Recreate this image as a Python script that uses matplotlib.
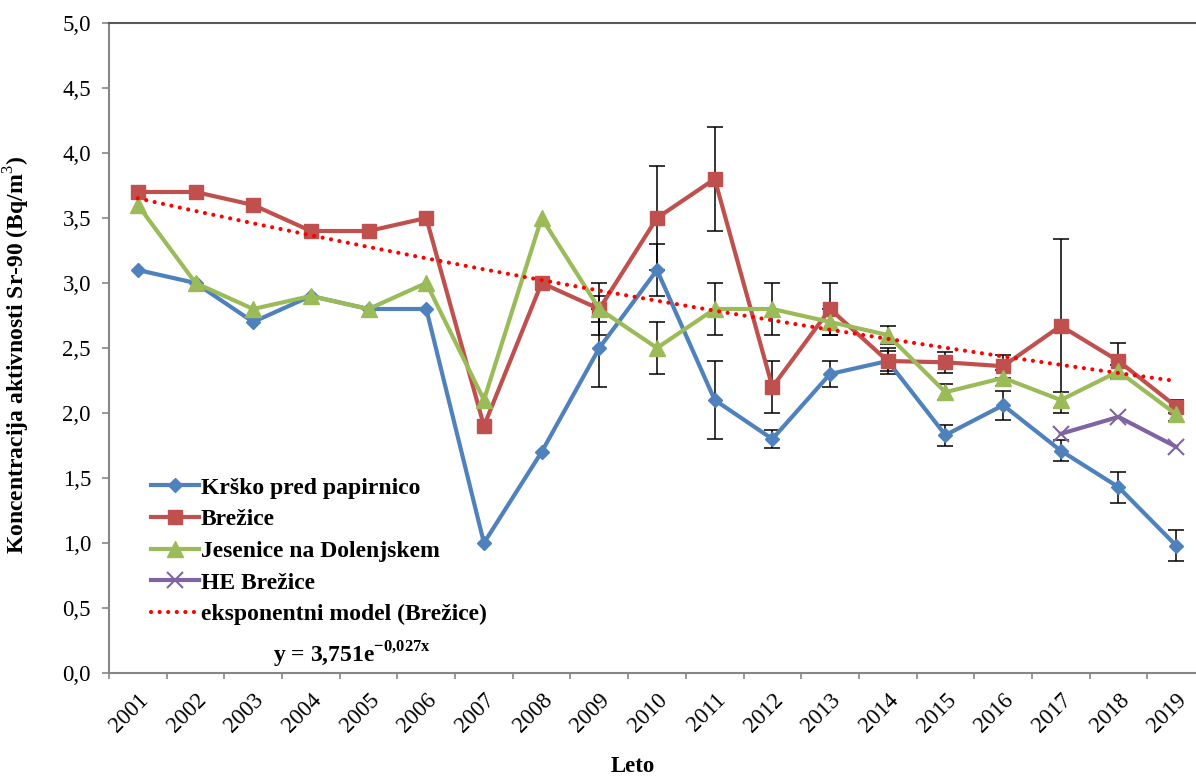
import matplotlib
matplotlib.use("Agg")
import matplotlib.pyplot as plt
from matplotlib.transforms import ScaledTranslation
import numpy as np

plt.rcParams['font.family'] = ['Liberation Serif', 'DejaVu Serif']
plt.rcParams['mathtext.fontset'] = 'custom'
plt.rcParams['mathtext.rm'] = 'Liberation Serif'
plt.rcParams['mathtext.bf'] = 'Liberation Serif:bold'

years = [str(y) for y in range(2001, 2020)]

krsko = [3.1, 3.0, 2.7, 2.9, 2.8, 2.8, 1.0, 1.7, 2.5, 3.1, 2.1, 1.8, 2.3, 2.4, 1.83, 2.06, 1.71, 1.43, 0.98]
krsko_err = [np.nan] * 8 + [0.3, 0.2, 0.3, 0.07, 0.1, 0.08, 0.08, 0.11, 0.08, 0.12, 0.12]

brezice = [3.7, 3.7, 3.6, 3.4, 3.4, 3.5, 1.9, 3.0, 2.8, 3.5, 3.8, 2.2, 2.8, 2.4, 2.39, 2.36, 2.67, 2.4, 2.05]
brezice_err = [np.nan] * 8 + [0.1, 0.4, 0.4, 0.2, 0.2, 0.1, 0.08, 0.09, 0.67, 0.14, 0.05]

jesenice = [3.6, 3.0, 2.8, 2.9, 2.8, 3.0, 2.1, 3.5, 2.8, 2.5, 2.8, 2.8, 2.7, 2.6, 2.16, 2.27, 2.1, 2.32, 1.99]
jesenice_err = [np.nan] * 8 + [0.2, 0.2, 0.2, 0.2, 0.1, 0.07, 0.06, 0.06, 0.06, 0.05, 0.05]

he_years = ['2017', '2018', '2019']
he_brezice = [1.84, 1.97, 1.74]

# exponential model shown on the chart: y = 3,751 e^(-0,027 x)
model_a = 3.751
model_b = -0.027

x = np.arange(len(years))
hx = np.array([years.index(y) for y in he_years])

fig = plt.figure(figsize=(11.96, 7.76), dpi=100)
ax = fig.add_axes([109 / 1196, 103 / 776, 1096 / 1196, 650 / 776])

blue = '#4F81BD'
red = '#C0504D'
green = '#9BBB59'
purple = '#8064A2'

for vals, err in [(krsko, krsko_err), (brezice, brezice_err), (jesenice, jesenice_err)]:
    ax.errorbar(x, vals, yerr=err, fmt='none', ecolor='black', elinewidth=1.1,
                capsize=6, capthick=1.1, zorder=2)

ax.plot(x, krsko, color=blue, lw=3, marker='D', ms=7.5, label='Krško pred papirnico', zorder=3)
ax.plot(x, brezice, color=red, lw=3, marker='s', ms=10, label='Brežice', zorder=3)
ax.plot(x, jesenice, color=green, lw=3, marker='^', ms=11, label='Jesenice na Dolenjskem', zorder=3)
ax.plot(hx, he_brezice, color=purple, lw=3, marker='x', ms=11, mew=1.5,
        label='HE Brežice', zorder=3)

trend = model_a * np.exp(model_b * (x + 1))
ax.plot(x, trend, color='#FF0000', lw=3, ls=(0, (0.01, 2.05)), dash_capstyle='round',
        label='eksponentni model (Brežice)', zorder=4)

ax.set_xlim(-0.5, len(years) - 0.5)
ax.set_ylim(0, 5)
yt = np.arange(0, 5.01, 0.5)
ax.set_yticks(yt)
ax.set_yticklabels([f'{v:.1f}'.replace('.', ',') for v in yt], fontsize=16.5)
ax.set_xticks(x)
ax.set_xticklabels(years, rotation=45, ha='right', va='top', rotation_mode='anchor', fontsize=16.5)
shift = ScaledTranslation(-4 / 100, 0, fig.dpi_scale_trans)
for lab in ax.get_xticklabels():
    lab.set_transform(lab.get_transform() + shift)
ax.set_xticks(np.arange(-0.5, len(years), 1), minor=True)
ax.tick_params(axis='x', which='major', length=0, pad=12)
ax.tick_params(axis='x', which='minor', length=4.5, color='#868686', width=1.2)
ax.tick_params(axis='y', length=5, color='#868686', width=1.2, pad=8)

ax.spines['right'].set_visible(False)
ax.spines['left'].set_color('#868686')
ax.spines['bottom'].set_color('#868686')
ax.spines['top'].set_color('#595959')
for s in ax.spines.values():
    s.set_linewidth(1.5)

ax.set_xlabel('Leto', fontsize=16.5, fontweight='bold')
ax.xaxis.set_label_coords(0.478, -0.128)
ax.set_ylabel('Koncentracija aktivnosti Sr-90 (Bq/m$^{3}$)', fontsize=17, fontweight='bold')
ax.yaxis.set_label_coords(-0.070, 0.49)

ax.legend(loc='upper left', bbox_to_anchor=(0.03, 0.316), frameon=False,
          prop={'size': 17, 'weight': 'bold'}, handlelength=2.0, handletextpad=0.1,
          labelspacing=0.43, borderaxespad=0)

ax.text(0.150, 0.016, r'y = 3,751e$^{\mathbf{-0{,}027x}}$', transform=ax.transAxes,
        fontsize=17, fontweight='bold', va='baseline')

fig.savefig('out.png', dpi=100)
